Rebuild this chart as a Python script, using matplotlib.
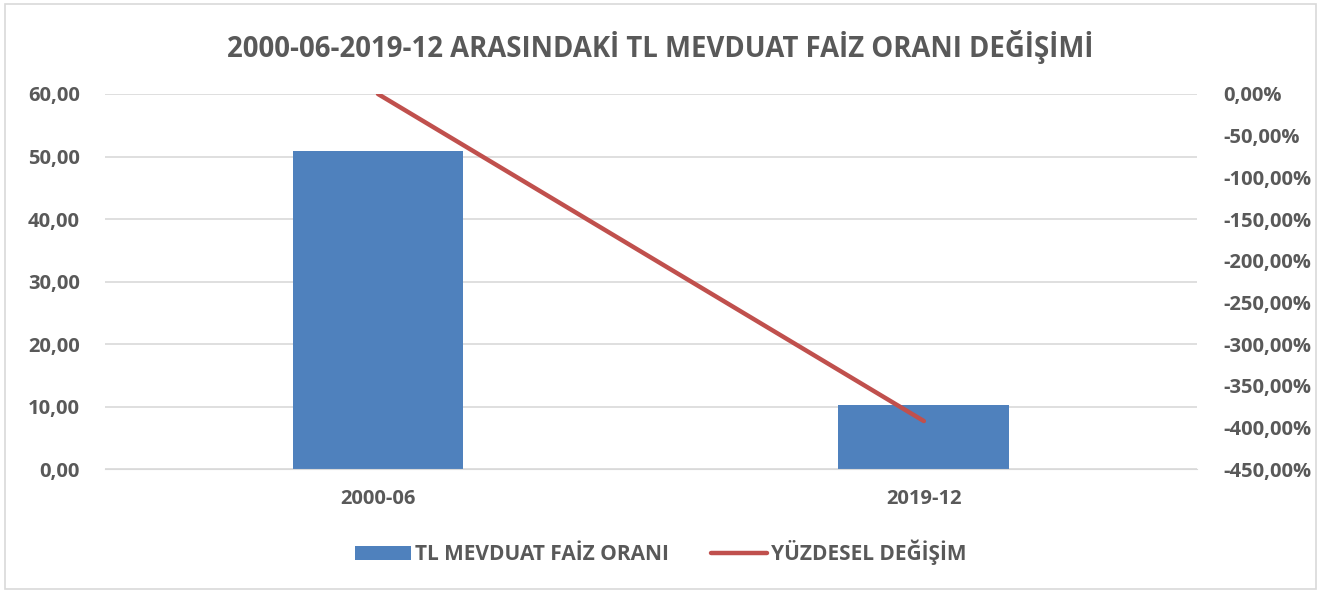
import matplotlib
matplotlib.use("Agg")
import matplotlib.pyplot as plt
from matplotlib.ticker import FuncFormatter

categories = ["2000-06", "2019-12"]
faiz_orani = [50.88, 10.29]
yuzdesel_degisim = [0.0, -392.4]
left_ticks = [0, 10, 20, 30, 40, 50, 60]
right_ticks = [0, -50, -100, -150, -200, -250, -300, -350, -400, -450]

txt = "#595959"
plt.rcParams["font.family"] = ["Open Sans", "DejaVu Sans"]
plt.rcParams["font.weight"] = "bold"

fig = plt.figure(figsize=(13.21, 5.93), dpi=100)
ax = fig.add_axes([0.0795, 0.209, 0.8265, 0.6325])
ax2 = ax.twinx()

x = range(len(categories))
ax.bar(x, faiz_orani, width=0.313, color="#4F81BD", label="TL MEVDUAT FAİZ ORANI", zorder=2)
ax2.plot(x, yuzdesel_degisim, color="#C0504D", lw=3.2, solid_capstyle="round", label="YÜZDESEL DEĞİŞİM")

ax.set_xlim(-0.5, 1.5)
ax.set_ylim(0, 60)
ax2.set_ylim(-450, 0)
ax.set_yticks(left_ticks)
ax2.set_yticks(right_ticks)
ax.yaxis.set_major_formatter(FuncFormatter(lambda v, p: f"{v:.2f}".replace(".", ",")))
ax2.yaxis.set_major_formatter(FuncFormatter(lambda v, p: f"{v:.2f}%".replace(".", ",")))
ax.set_xticks(list(x))
ax.set_xticklabels(categories)

ax.grid(axis="y", color="#D9D9D9", lw=1.2, zorder=0)
ax.set_axisbelow(True)
for a in (ax, ax2):
    for s in a.spines.values():
        s.set_visible(False)
    a.tick_params(length=0, labelsize=14.5, labelcolor=txt)
ax.spines["bottom"].set_visible(True)
ax.spines["bottom"].set_color("#D9D9D9")
ax.tick_params(axis="y", pad=18)
ax.tick_params(axis="x", pad=14)
ax2.tick_params(axis="y", pad=19)

fig.suptitle("2000-06-2019-12 ARASINDAKİ TL MEVDUAT FAİZ ORANI DEĞİŞİMİ",
             x=0.5, y=0.95, fontsize=19.8, color=txt, fontweight="bold")

h1, l1 = ax.get_legend_handles_labels()
h2, l2 = ax2.get_legend_handles_labels()
fig.legend(h1 + h2, l1 + l2, loc="center", bbox_to_anchor=(0.5, 0.068), ncol=2,
           frameon=False, fontsize=15, labelcolor=txt, handlelength=2.7,
           handletextpad=0.2, columnspacing=2.0)

fig.patches.append(plt.Rectangle((0.004, 0.006), 0.992, 0.988, transform=fig.transFigure,
                                 fill=False, edgecolor="#D9D9D9", lw=1.2))
fig.savefig("out.png", dpi=100)
